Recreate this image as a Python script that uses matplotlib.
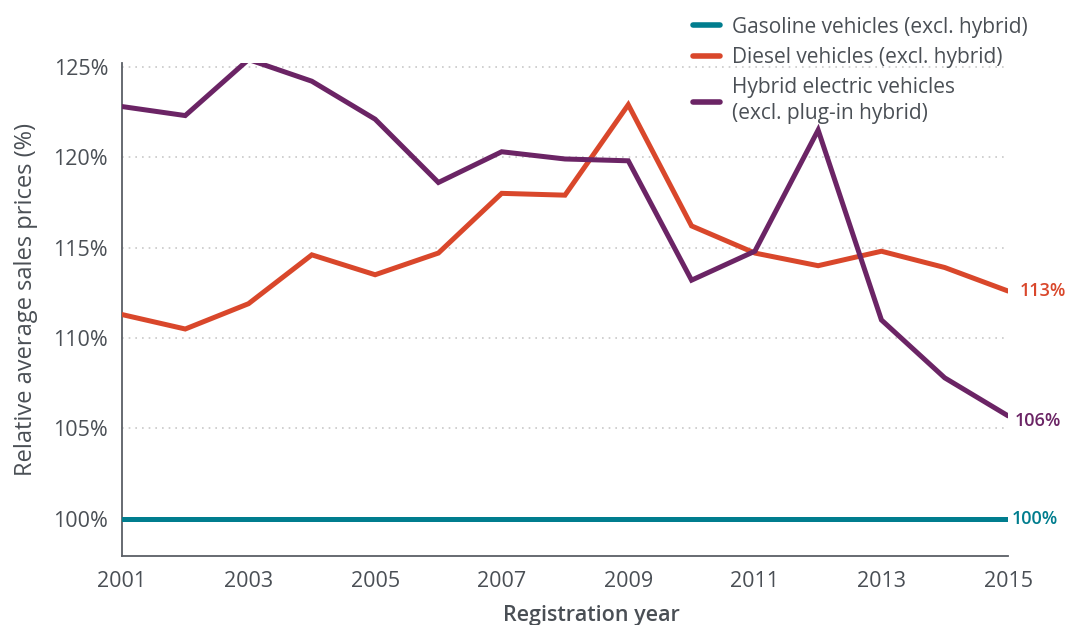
import numpy as np
import matplotlib.pyplot as plt
from matplotlib.lines import Line2D

plt.rcParams['font.family'] = ['Open Sans', 'DejaVu Sans']

# Data (relative to gasoline = 100%)
years = np.arange(2001, 2016)
gasoline = [100] * 15
diesel = [111.3, 110.5, 111.9, 114.6, 113.5, 114.7, 118.0, 117.9,
          122.9, 116.2, 114.7, 114.0, 114.8, 113.9, 112.6]
hybrid = [122.8, 122.3, 125.4, 124.2, 122.1, 118.6, 120.3, 119.9,
          119.8, 113.2, 114.8, 121.5, 111.0, 107.8, 105.7]
labels = ["Gasoline vehicles (excl. hybrid)",
          "Diesel vehicles (excl. hybrid)",
          "Hybrid electric vehicles\n(excl. plug-in hybrid)"]
end_labels = ["100%", "113%", "106%"]

colors = ["#007d8e", "#d9472b", "#6b2465"]
text_col = "#4a4f55"

fig = plt.figure(figsize=(10.66, 6.25), dpi=100)
ax = fig.add_axes([0.1144, 0.1104, 0.8312, 0.7886])

for y in [105, 110, 115, 120, 125]:
    ax.plot([2001, 2014.95], [y, y], color="#c8c8c8", lw=1.2,
            ls=(0, (1, 3)), zorder=1)

series = [gasoline, diesel, hybrid]
for vals, c in zip(series, colors):
    ax.plot(years, vals, color=c, lw=3.6, solid_capstyle="round",
            solid_joinstyle="miter", zorder=3)

offsets = [(3, 0), (8.5, 0), (5, -0.3)]
for vals, c, t, (dx, dy) in zip(series, colors, end_labels, offsets):
    ax.annotate(t, (years[-1], vals[-1] + dy), xytext=(dx, 0),
                textcoords="offset points", color=c, fontsize=13,
                fontweight="semibold", va="center", ha="left",
                annotation_clip=False)

ax.set_xlim(2001, 2015)
ax.set_ylim(97.95, 125.2)
ax.set_xticks(np.arange(2001, 2016, 2))
ax.set_yticks([100, 105, 110, 115, 120, 125])
ax.set_yticklabels([f"{v}%" for v in [100, 105, 110, 115, 120, 125]])
ax.tick_params(length=0, labelsize=15.5, colors=text_col, pad=10)
ax.tick_params(axis="x", pad=11)

for s in ["top", "right"]:
    ax.spines[s].set_visible(False)
for s in ["left", "bottom"]:
    ax.spines[s].set_color("#5a5f66")
    ax.spines[s].set_linewidth(1.3)

ax.set_ylabel("Relative average sales prices (%)", fontsize=17,
              color=text_col, va="center")
ax.yaxis.set_label_coords(-0.108, 0.521)
ax.set_xlabel("Registration year", fontsize=15.5, color=text_col,
              fontweight="semibold")
ax.xaxis.set_label_coords(0.53, -0.1)

handles = [Line2D([], [], color=c, lw=4, solid_capstyle="round") for c in colors]
leg = fig.legend(handles, labels, loc="upper left",
                 bbox_to_anchor=(0.640, 0.99), frameon=False, fontsize=15,
                 borderpad=0, handlelength=1.33, handletextpad=0.55,
                 labelspacing=0.45, labelcolor=text_col)
for t in leg.get_texts():
    t.set_linespacing(1.3)

fig.savefig("out.png", dpi=100)
